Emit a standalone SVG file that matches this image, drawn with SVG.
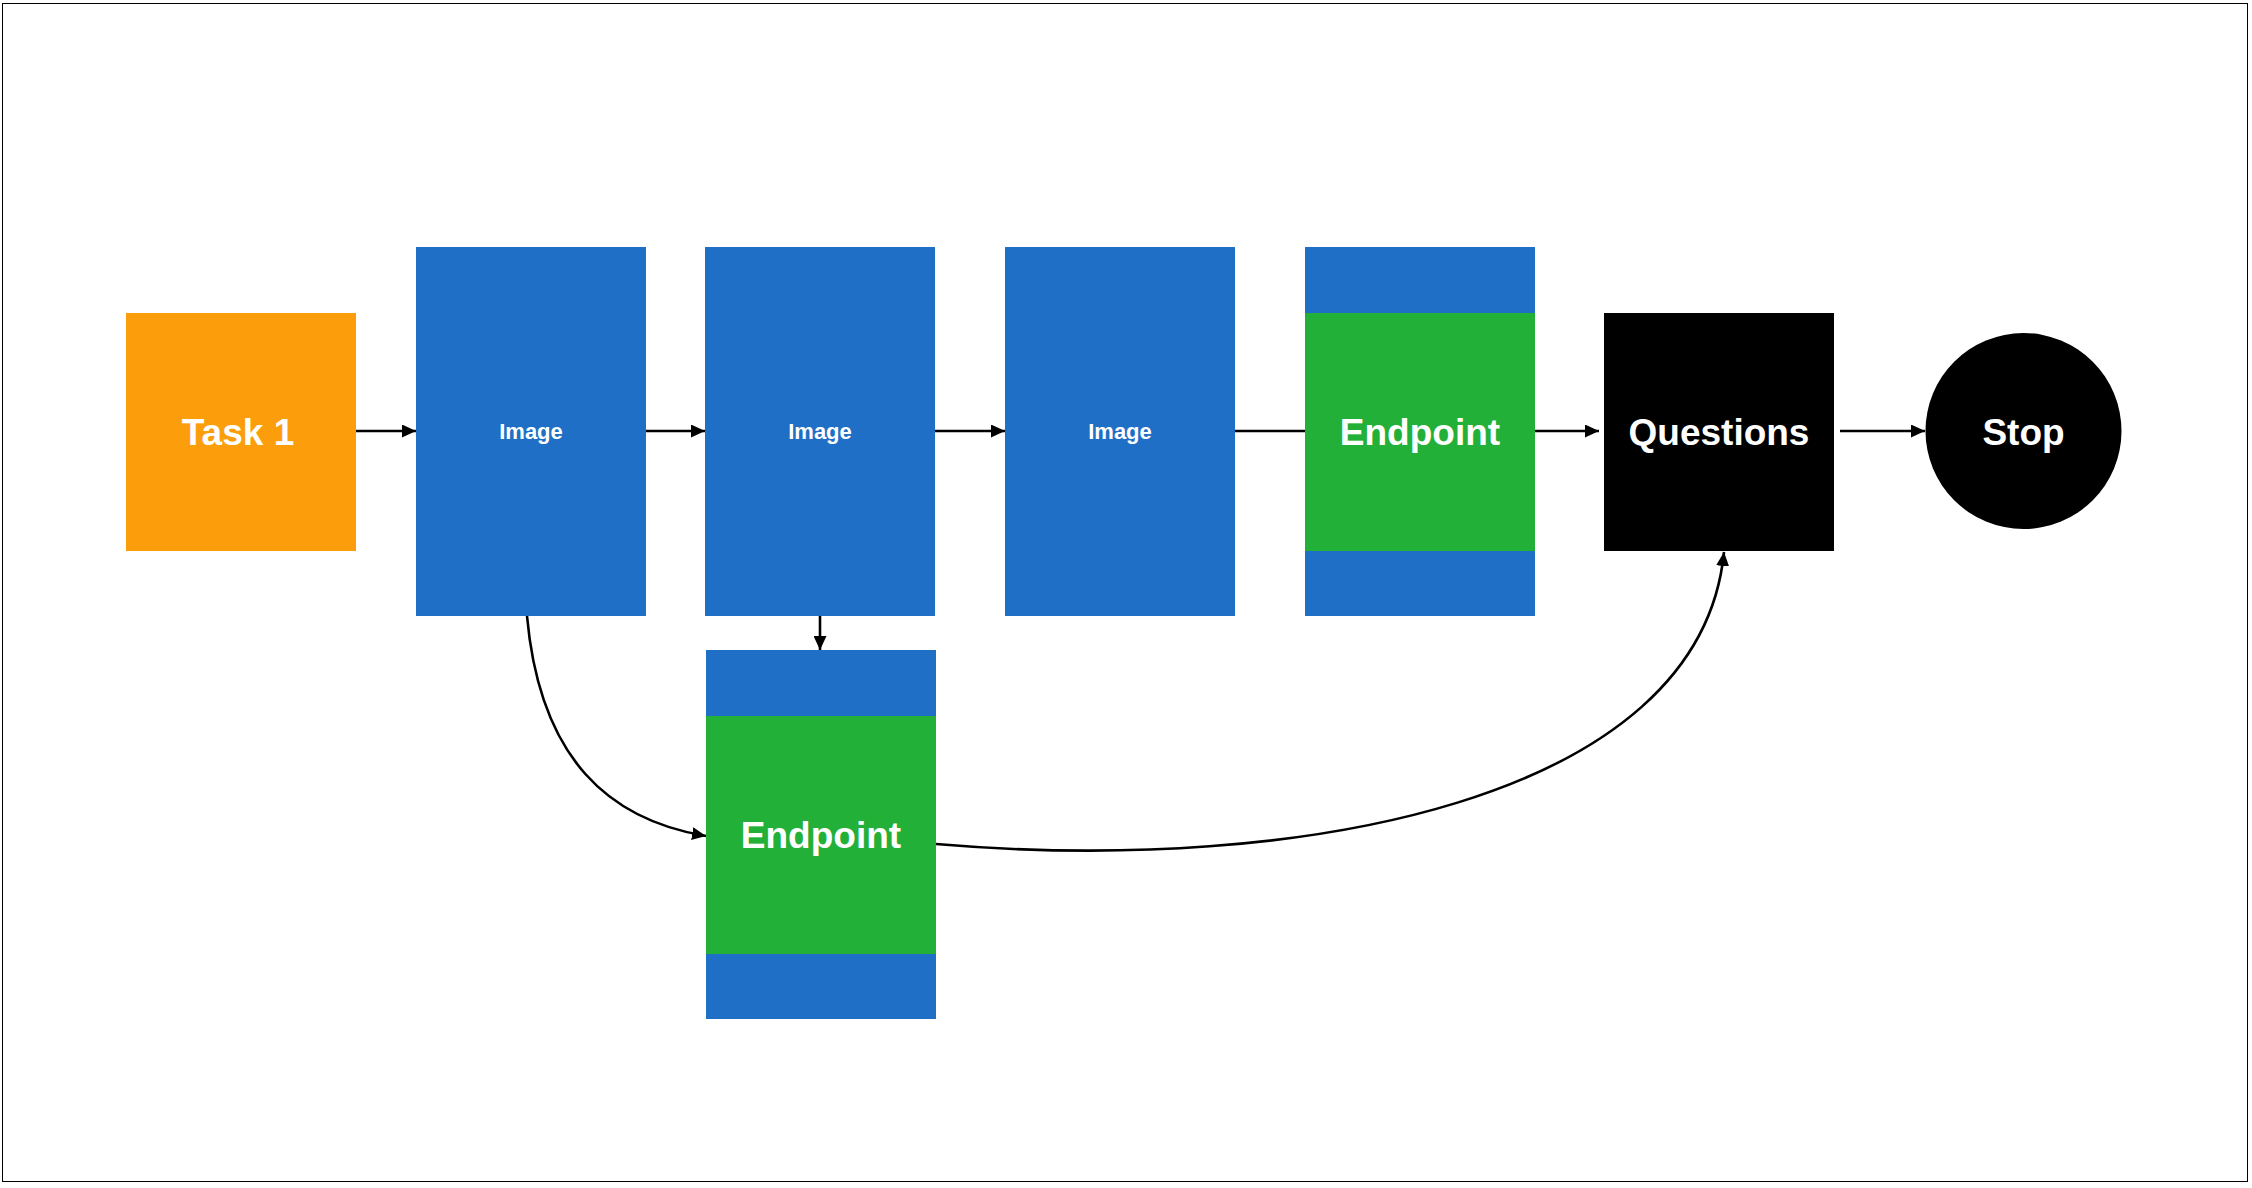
<svg xmlns="http://www.w3.org/2000/svg" width="2252" height="1188" viewBox="0 0 2252 1188">
  <defs>
    <style>
      .lbl { font-family: "Liberation Sans", Arial, Helvetica, sans-serif; font-weight: bold; fill: #ffffff; text-anchor: middle; }
      .big { font-size: 37px; }
      .small { font-size: 22px; }
      .blue { fill: #1E6FC5; }
      .green { fill: #23B038; }
      .orange { fill: #FC9E0B; }
      .black { fill: #000000; }
      .edge { fill: none; stroke: #000000; stroke-width: 2.6; }
    </style>
    <marker id="arrow" viewBox="0 0 14 13" refX="14" refY="6.5" markerWidth="14" markerHeight="13" markerUnits="userSpaceOnUse" orient="auto">
      <path d="M0,0 L14,6.5 L0,13 Z" fill="#000000"/>
    </marker>
  </defs>
  <rect x="0" y="0" width="2252" height="1188" fill="#ffffff"/>
  <rect x="2.5" y="3.5" width="2245" height="1178" fill="none" stroke="#000000" stroke-width="1"/>

  <g id="connectors">
    <path class="edge" d="M356,431 L416,431" marker-end="url(#arrow)"/>
    <path class="edge" d="M646,431 L705,431" marker-end="url(#arrow)"/>
    <path class="edge" d="M935,431 L1005,431" marker-end="url(#arrow)"/>
    <path class="edge" d="M1234,431 L1305,431"/>
    <path class="edge" d="M1535,431 L1599,431" marker-end="url(#arrow)"/>
    <path class="edge" d="M1840,431 L1925,431" marker-end="url(#arrow)"/>
    <path class="edge" d="M820,616 L820,650" marker-end="url(#arrow)"/>
    <path class="edge" d="M527,616 C540,760 610,820 706,836" marker-end="url(#arrow)"/>
    <path class="edge" d="M936,844 C1300,875 1700,800 1724,552" marker-end="url(#arrow)"/>
  </g>

  <g id="task1">
    <rect class="orange" x="126" y="313" width="230" height="238"/>
    <text class="lbl big" x="238" y="445">Task 1</text>
  </g>

  <g id="image1">
    <rect class="blue" x="416" y="247" width="230" height="369"/>
    <text class="lbl small" x="531" y="439">Image</text>
  </g>

  <g id="image2">
    <rect class="blue" x="705" y="247" width="230" height="369"/>
    <text class="lbl small" x="820" y="439">Image</text>
  </g>

  <g id="image3">
    <rect class="blue" x="1005" y="247" width="230" height="369"/>
    <text class="lbl small" x="1120" y="439">Image</text>
  </g>

  <g id="endpoint1">
    <rect class="blue" x="1305" y="247" width="230" height="369"/>
    <rect class="green" x="1305" y="313" width="230" height="238"/>
    <text class="lbl big" x="1420" y="445">Endpoint</text>
  </g>

  <g id="questions">
    <rect class="black" x="1604" y="313" width="230" height="238"/>
    <text class="lbl big" x="1719" y="445">Questions</text>
  </g>

  <g id="stop">
    <circle class="black" cx="2023.5" cy="431" r="98"/>
    <text class="lbl big" x="2023.5" y="445">Stop</text>
  </g>

  <g id="endpoint2">
    <rect class="blue" x="706" y="650" width="230" height="369"/>
    <rect class="green" x="706" y="716" width="230" height="238"/>
    <text class="lbl big" x="821" y="848">Endpoint</text>
  </g>
</svg>
